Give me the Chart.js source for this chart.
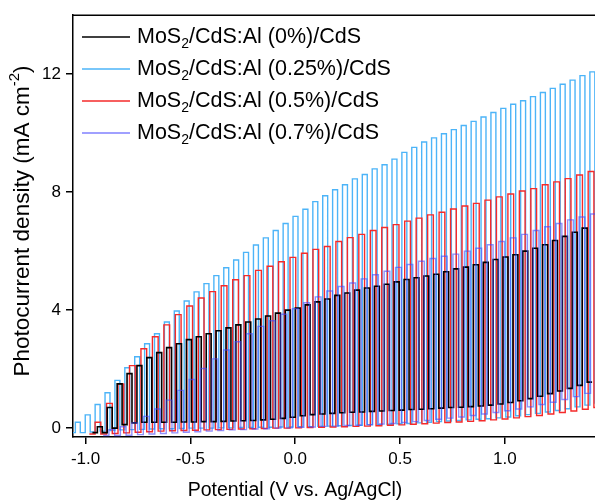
<!DOCTYPE html>
<html>
<head>
<meta charset="utf-8">
<script src="https://cdn.jsdelivr.net/npm/chart.js@4.4.1/dist/chart.umd.min.js"></script>
<style>
  html, body { margin: 0; padding: 0; background: #fff; }
  #wrap { width: 595px; height: 504px; }
</style>
</head>
<body>
<div id="wrap"><canvas id="pecChart" width="595" height="504"></canvas></div>
<script>
// Tick labels
const xTicks = [-1.0, -0.5, 0.0, 0.5, 1.0];
const yTicks = [0, 4, 8, 12];

// Legend labels
const seriesLabels = [
    'MoS₂/CdS:Al (0%)/CdS',
    'MoS₂/CdS:Al (0.25%)/CdS',
    'MoS₂/CdS:Al (0.5%)/CdS',
    'MoS₂/CdS:Al (0.7%)/CdS'
];

// Chopped-light timing (V): centre of first light-on pulse and chopping period
const pulseStart = [-0.932, -1.037, -0.941, -0.875];
const pulsePeriod = [0.0472, 0.0472, 0.0547, 0.0547];

// 0% : light-on current per pulse, then dark current after each pulse (mA cm-2)
const lightAl0 = [0.05, 0.7, 1.5, 1.85, 2.12, 2.39, 2.56, 2.73, 2.86, 3.0,
    3.1, 3.2, 3.3, 3.4, 3.5, 3.6, 3.7, 3.8, 3.9, 4.0,
    4.07, 4.18, 4.28, 4.38, 4.5, 4.58, 4.68, 4.75, 4.81, 4.88,
    4.96, 5.04, 5.1, 5.16, 5.22, 5.3, 5.4, 5.46, 5.54, 5.62,
    5.72, 5.8, 5.88, 6.0, 6.1, 6.22, 6.36, 6.5, 6.64, 6.78];
const darkAl0 = [-0.15, 0.0, 0.12, 0.18, 0.2, 0.2, 0.2, 0.2, 0.21, 0.21,
    0.22, 0.22, 0.23, 0.24, 0.25, 0.26, 0.28, 0.3, 0.33, 0.37,
    0.42, 0.46, 0.48, 0.5, 0.52, 0.54, 0.55, 0.57, 0.58, 0.6,
    0.61, 0.63, 0.64, 0.66, 0.68, 0.7, 0.71, 0.73, 0.75, 0.78,
    0.82, 0.87, 0.93, 1.0, 1.08, 1.17, 1.26, 1.35, 1.45, 1.56];

// 0.25%
const lightAl025 = [0.2, 0.45, 0.8, 1.2, 1.62, 2.05, 2.42, 2.86, 3.2, 3.6,
    3.97, 4.31, 4.62, 4.9, 5.17, 5.44, 5.7, 5.96, 6.21, 6.45,
    6.7, 6.94, 7.18, 7.42, 7.68, 7.88, 8.08, 8.25, 8.45, 8.6,
    8.79, 8.93, 9.12, 9.35, 9.52, 9.7, 9.84, 9.98, 10.12, 10.26,
    10.4, 10.55, 10.7, 10.84, 10.98, 11.1, 11.24, 11.38, 11.52, 11.66,
    11.8, 11.95, 12.08];
const darkAl025 = [-0.15, -0.13, -0.1, -0.08, -0.06, -0.05, -0.04, -0.03, -0.02, -0.02,
    -0.01, 0.0, 0.0, 0.0, 0.01, 0.01, 0.02, 0.02, 0.03, 0.03,
    0.04, 0.04, 0.05, 0.05, 0.06, 0.07, 0.08, 0.09, 0.1, 0.11,
    0.12, 0.13, 0.15, 0.16, 0.18, 0.2, 0.22, 0.24, 0.26, 0.28,
    0.3, 0.32, 0.35, 0.38, 0.42, 0.46, 0.5, 0.55, 0.6, 0.66,
    0.72, 0.78, 0.85];

// 0.5%
const lightAl05 = [0.2, 0.84, 1.5, 2.12, 2.69, 3.1, 3.5, 3.85, 4.14, 4.41,
    4.63, 4.83, 5.03, 5.17, 5.35, 5.49, 5.64, 5.79, 5.93, 6.06,
    6.16, 6.33, 6.46, 6.57, 6.7, 6.8, 6.9, 7.02, 7.12, 7.23,
    7.32, 7.43, 7.53, 7.62, 7.73, 7.84, 7.94, 8.04, 8.12, 8.25,
    8.35, 8.46, 8.58, 8.7];
const darkAl05 = [-0.2, -0.18, -0.16, -0.14, -0.12, -0.1, -0.09, -0.08, -0.07, -0.06,
    -0.05, -0.04, -0.03, -0.02, -0.01, 0.0, 0.0, 0.01, 0.02, 0.03,
    0.04, 0.05, 0.06, 0.07, 0.08, 0.1, 0.11, 0.13, 0.15, 0.17,
    0.19, 0.21, 0.23, 0.25, 0.28, 0.31, 0.35, 0.39, 0.43, 0.48,
    0.53, 0.58, 0.64, 0.7];

// 0.7%
const lightAl07 = [-0.05, 0.05, 0.18, 0.4, 0.65, 0.95, 1.28, 1.65, 2.02, 2.35,
    2.65, 2.93, 3.2, 3.45, 3.64, 3.86, 4.05, 4.25, 4.45, 4.65,
    4.8, 4.92, 5.06, 5.2, 5.32, 5.45, 5.55, 5.66, 5.75, 5.83,
    5.9, 6.0, 6.1, 6.22, 6.33, 6.45, 6.57, 6.7, 6.83, 6.94,
    7.06, 7.16, 7.26];
const darkAl07 = [-0.25, -0.24, -0.22, -0.2, -0.18, -0.16, -0.14, -0.12, -0.1, -0.08,
    -0.06, -0.05, -0.03, -0.02, 0.0, 0.01, 0.03, 0.04, 0.06, 0.07,
    0.09, 0.1, 0.12, 0.14, 0.16, 0.19, 0.22, 0.26, 0.3, 0.34,
    0.38, 0.43, 0.48, 0.53, 0.59, 0.65, 0.72, 0.8, 0.88, 0.97,
    1.07, 1.18, 1.3];

const FONT = "'Liberation Sans', Arial, sans-serif";

// turn per-pulse light/dark readings into a square wave (half period on, half off)
function chopTrace(first, period, light, dark) {
    const q = period / 4;
    const pts = [{ x: first - 3 * q, y: dark[0] }];
    light.forEach((on, i) => {
        const c = first + i * period;
        const before = i === 0 ? dark[0] : dark[i - 1];
        pts.push({ x: c - q, y: before });
        pts.push({ x: c - q, y: on });
        pts.push({ x: c + q, y: on });
        pts.push({ x: c + q, y: dark[i] });
    });
    pts.push({ x: first + (light.length - 1) * period + 3 * q, y: dark[dark.length - 1] });
    return pts;
}

const colors = ['#000000', '#4cb4f8', '#f52a2a', 'rgba(70,70,250,0.6)'];
const legendColors = ['#000000', '#4cb4f8', '#f52a2a', '#8080ff'];
const lineWidths = [1.6, 1.4, 1.4, 1.4];

// draw legend, y title (with superscript) and top frame line
const decorPlugin = {
    id: 'decor',
    afterDraw(chart) {
        const ctx = chart.ctx;
        const area = chart.chartArea;
        ctx.save();
        // top frame
        ctx.strokeStyle = '#000';
        ctx.lineWidth = 1.5;
        ctx.beginPath();
        ctx.moveTo(area.left, area.top);
        ctx.lineTo(area.right, area.top);
        ctx.stroke();

        // legend
        const rows = [37, 69, 101, 133];
        seriesLabels.forEach((lab, i) => {
            const y = rows[i];
            ctx.strokeStyle = legendColors[i];
            ctx.lineWidth = 1.5;
            ctx.beginPath();
            ctx.moveTo(82, y);
            ctx.lineTo(130, y);
            ctx.stroke();
            const parts = lab.split('₂');
            ctx.fillStyle = '#000';
            ctx.textBaseline = 'middle';
            ctx.textAlign = 'left';
            ctx.font = '21.5px ' + FONT;
            let x = 137;
            ctx.fillText(parts[0], x, y);
            x += ctx.measureText(parts[0]).width;
            ctx.font = '14px ' + FONT;
            ctx.fillText('2', x, y + 7);
            x += ctx.measureText('2').width;
            ctx.font = '21.5px ' + FONT;
            ctx.fillText(parts[1], x, y);
        });

        // y axis title
        ctx.translate(23, 221);
        ctx.rotate(-Math.PI / 2);
        const main = 'Photocurrent density (mA cm';
        ctx.font = '22.5px ' + FONT;
        const w1 = ctx.measureText(main).width;
        ctx.font = '15px ' + FONT;
        const w2 = ctx.measureText('-2').width;
        ctx.font = '22.5px ' + FONT;
        const w3 = ctx.measureText(')').width;
        let x0 = -(w1 + w2 + w3) / 2;
        ctx.fillStyle = '#000';
        ctx.textBaseline = 'middle';
        ctx.textAlign = 'left';
        ctx.fillText(main, x0, 0);
        ctx.font = '15px ' + FONT;
        ctx.fillText('-2', x0 + w1, -8);
        ctx.font = '22.5px ' + FONT;
        ctx.fillText(')', x0 + w1 + w2, 0);
        ctx.restore();

        // x axis title
        ctx.save();
        ctx.font = '19.5px ' + FONT;
        ctx.fillStyle = '#000';
        ctx.textAlign = 'center';
        ctx.textBaseline = 'middle';
        ctx.fillText('Potential (V vs. Ag/AgCl)', 295, 491);
        ctx.restore();
    }
};

const lights = [lightAl0, lightAl025, lightAl05, lightAl07];
const darks = [darkAl0, darkAl025, darkAl05, darkAl07];
const drawOrder = [1, 3, 2, 0];

const ctxPec = document.getElementById('pecChart').getContext('2d');
const pecChart = new Chart(ctxPec, {
    type: 'scatter',
    data: {
        datasets: seriesLabels.map((lab, i) => ({
            label: lab,
            data: chopTrace(pulseStart[i], pulsePeriod[i], lights[i], darks[i]),
            showLine: true,
            borderColor: colors[i],
            borderWidth: lineWidths[i],
            pointRadius: 0,
            tension: 0,
            order: drawOrder[i]
        }))
    },
    options: {
        responsive: false,
        animation: false,
        layout: { padding: { top: 13, right: 0, left: 0, bottom: 0 } },
        plugins: {
            legend: { display: false },
            tooltip: { enabled: false }
        },
        scales: {
            x: {
                type: 'linear',
                min: -1.06,
                max: 1.43,
                afterFit: (s) => { s.height = 67; },
                afterBuildTicks: (s) => { s.ticks = xTicks.map(v => ({ value: v })); },
                grid: { drawOnChartArea: false, drawTicks: true, tickLength: 7, color: '#000', lineWidth: 1.5 },
                border: { display: true, color: '#000', width: 1.5 },
                ticks: {
                    color: '#000',
                    padding: 5,
                    maxRotation: 0,
                    font: { size: 17, family: FONT },
                    callback: (v) => Number(v).toFixed(1)
                }
            },
            y: {
                min: -0.3,
                max: 14,
                afterFit: (s) => { s.width = 73; },
                afterBuildTicks: (s) => { s.ticks = yTicks.map(v => ({ value: v })); },
                grid: { drawOnChartArea: false, drawTicks: true, tickLength: 7, color: '#000', lineWidth: 1.5 },
                border: { display: true, color: '#000', width: 1.5 },
                ticks: {
                    color: '#000',
                    padding: 5,
                    font: { size: 17, family: FONT },
                    callback: (v) => String(v)
                }
            }
        }
    },
    plugins: [decorPlugin]
});
</script>
</body>
</html>
